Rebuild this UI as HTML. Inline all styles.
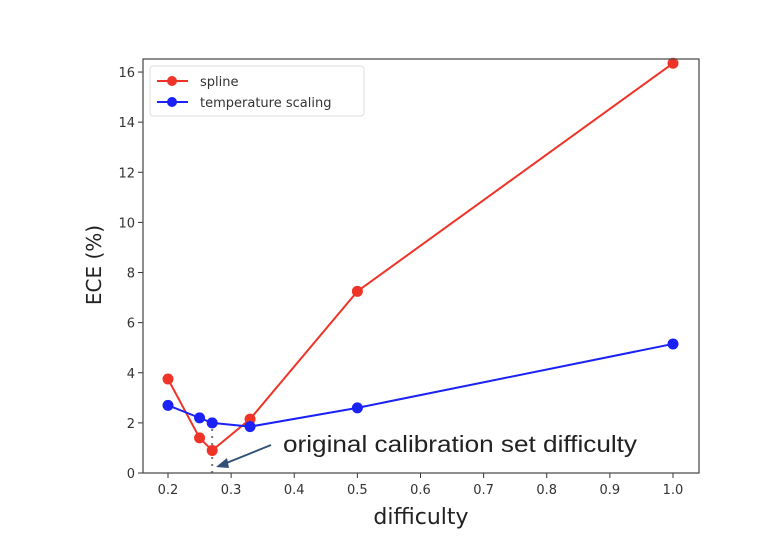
<!DOCTYPE html>
<html><head><meta charset="utf-8"><style>
html,body{margin:0;padding:0;background:#fff;}
svg{display:block;font-family:"DejaVu Sans","Liberation Sans",sans-serif;}
</style></head><body>
<svg id="chart" width="770" height="536">
<g id="axes"></g>
</svg>
<script>
const xTicks=[0.2,0.3,0.4,0.5,0.6,0.7,0.8,0.9,1.0];
const xTickLabels=["0.2","0.3","0.4","0.5","0.6","0.7","0.8","0.9","1.0"];
const yTicks=[0,2,4,6,8,10,12,14,16];
const yTickLabels=["0","2","4","6","8","10","12","14","16"];
const difficulty=[0.2,0.25,0.27,0.33,0.5,1.0];
const splineECE=[3.75,1.4,0.9,2.15,7.25,16.35];
const tempECE=[2.7,2.2,2.0,1.85,2.6,5.15];
const calibDifficulty=0.27;

const L=143,R=699,T=59,B=473;
const X=v=>168+(v-0.2)*631.25;
const Y=v=>473-v*25.06;
const svg=document.getElementById('chart');
const NS='http://www.w3.org/2000/svg';
function mk(tag,attrs,parent){const e=document.createElementNS(NS,tag);for(const k in attrs)e.setAttribute(k,attrs[k]);(parent||svg).appendChild(e);return e;}

xTicks.forEach((t,i)=>{
 const ln=mk('line',{x1:X(t),x2:X(t),y1:B,y2:B+5,stroke:'#333','stroke-width':1});
 
 
 const tx=mk('text',{x:X(t),y:B+21,'text-anchor':'middle','font-size':13,fill:'#333'});
 tx.textContent=xTickLabels[i];
 
 
});
yTicks.forEach((t,i)=>{
 const ln=mk('line',{x1:L-5,x2:L,y1:Y(t),y2:Y(t),stroke:'#333','stroke-width':1});
 
 
 const tx=mk('text',{x:L-8,y:Y(t)+5,'text-anchor':'end','font-size':13,fill:'#333'});
 tx.textContent=yTickLabels[i];
 
 
});

const dl=mk('line',{x1:X(calibDifficulty),x2:X(calibDifficulty),y1:Y(0),y2:Y(2.0),stroke:'#777','stroke-width':2,'stroke-dasharray':'2,5'});



function series(vals,color,name){
 const pts=difficulty.map((d,i)=>X(d)+','+Y(vals[i])).join(' ');
 const pl=mk('polyline',{points:pts,fill:'none',stroke:color,'stroke-width':2});
 
 
 difficulty.forEach((d,i)=>{
  const c=mk('circle',{cx:X(d),cy:Y(vals[i]),r:5.5,fill:color});
  
  
 });
}
series(splineECE,'#ee3428','spline');
series(tempECE,'#1a22f5','temperature-scaling');

const fr=mk('rect',{x:L,y:T,width:R-L,height:B-T,fill:'none',stroke:'#444','stroke-width':1.2});



const lg=mk('g',{});


mk('rect',{x:150,y:66,width:214,height:50,rx:3,fill:'#fff',stroke:'#ddd'},lg);
[['spline','#ee3428',81],['temperature scaling','#1a22f5',102]].forEach(([t,c,y])=>{
 mk('line',{x1:157,x2:188,y1:y,y2:y,stroke:c,'stroke-width':2},lg);
 mk('circle',{cx:172,cy:y,r:5,fill:c},lg);
 const tx=mk('text',{x:200,y:y+5,'font-size':13,fill:'#333'},lg);
 tx.textContent=t;
 
 
});

const ar=mk('line',{x1:271,y1:445,x2:224,y2:464,stroke:'#2f4f75','stroke-width':1.8});


const ah=mk('polygon',{points:'216,467 227,458 229,468',fill:'#2f4f75'});


const an=mk('text',{x:283,y:452,'font-size':23,fill:'#222','font-family':'Liberation Sans, sans-serif',textLength:354,lengthAdjust:'spacingAndGlyphs'});
an.textContent='original calibration set difficulty';



const xl=mk('text',{x:421,y:524,'text-anchor':'middle','font-size':22,fill:'#222'});
xl.textContent='difficulty';


const yl=mk('text',{x:0,y:0,'text-anchor':'middle','font-size':20,fill:'#222',transform:'translate(101,265) rotate(-90)'});
yl.textContent='ECE (%)';


</script>
</body></html>
